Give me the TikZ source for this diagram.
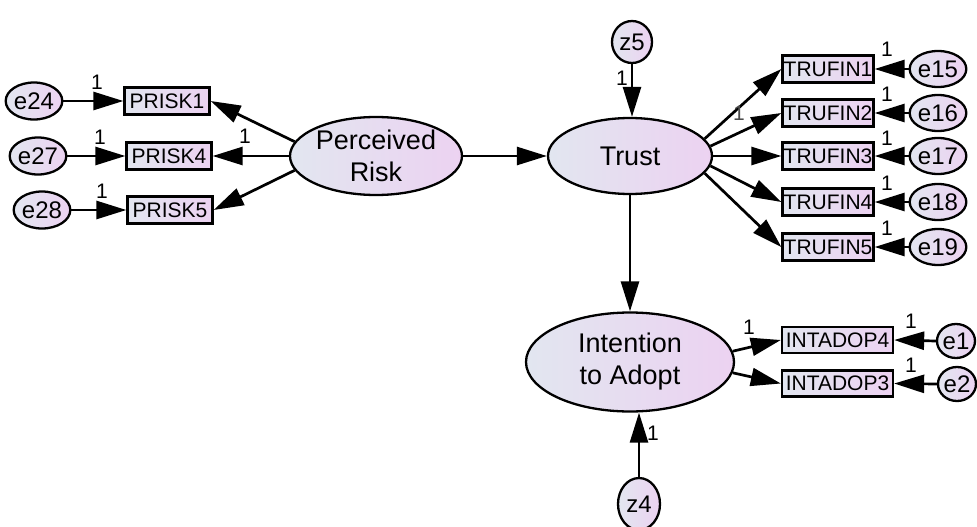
\documentclass[tikz,border=0pt]{standalone}
\usepackage{fontspec}
\setmainfont{Liberation Sans}
\usetikzlibrary{shapes.geometric,arrows.meta}
\definecolor{fillL}{RGB}{226,230,240}
\definecolor{fillR}{RGB}{236,210,241}
\tikzset{
  amos/.style={draw=black, line width=2.3pt, left color=fillL, right color=fillR, inner sep=0pt},
  latent/.style={amos, ellipse, align=center, font=\fontsize{27}{32}\selectfont},
  obs/.style={amos, rectangle, minimum height=27pt, font=\fontsize{21}{24}\selectfont},
  err/.style={amos, ellipse, minimum width=48pt, minimum height=37pt, font=\fontsize{24}{28}\selectfont},
  regpath/.style={line width=2.7pt, -{Triangle[length=30pt,width=18pt]}},
  one/.style={font=\fontsize{21}{24}\selectfont, inner sep=0pt},
}
\begin{document}
\begin{tikzpicture}[x=1pt,y=-1pt]
\useasboundingbox[fill=white] (0,0) rectangle (977,527);

% latent variables
\node[latent, minimum width=172pt, minimum height=78pt] (risk) at (376,156) {Perceived\\Risk};
\node[latent, minimum width=164pt, minimum height=76pt] (trust) at (630,156) {Trust};
\node[latent, minimum width=208pt, minimum height=99pt] (intent) at (630,362) {Intention\\to Adopt};

% disturbances
\node[err, minimum width=40pt, minimum height=42pt] (z5) at (632,42) {z5};
\node[err, minimum width=42pt, minimum height=52pt] (z4) at (639,504) {z4};

% perceived risk indicators
\node[obs, minimum width=85pt] (prisk1) at (167,101) {PRISK1};
\node[obs, minimum width=85pt] (prisk4) at (169,156) {PRISK4};
\node[obs, minimum width=85pt] (prisk5) at (170,210) {PRISK5};
\node[err] (e24) at (34,101) {e24};
\node[err] (e27) at (38,156) {e27};
\node[err] (e28) at (42,210) {e28};

% trust indicators
\node[obs, minimum width=91pt] (trufin1) at (828,69) {TRUFIN1};
\node[obs, minimum width=91pt] (trufin2) at (828,113) {TRUFIN2};
\node[obs, minimum width=91pt] (trufin3) at (828,156) {TRUFIN3};
\node[obs, minimum width=91pt] (trufin4) at (828,202) {TRUFIN4};
\node[obs, minimum width=91pt] (trufin5) at (828,247) {TRUFIN5};
\node[err, minimum width=47pt, minimum height=36pt] (e15) at (938,69) {e15};
\node[err, minimum width=47pt, minimum height=36pt] (e16) at (938,113) {e16};
\node[err, minimum width=47pt, minimum height=36pt] (e17) at (938,156) {e17};
\node[err, minimum width=47pt, minimum height=36pt] (e18) at (938,202) {e18};
\node[err, minimum width=47pt, minimum height=36pt] (e19) at (938,247) {e19};

% intention indicators
\node[obs, minimum width=111pt, minimum height=26pt] (intadop4) at (837.5,340) {INTADOP4};
\node[obs, minimum width=111pt, minimum height=26pt] (intadop3) at (837.5,383.5) {INTADOP3};
\node[err, minimum width=38pt, minimum height=34pt] (e1) at (956,341) {e1};
\node[err, minimum width=38pt, minimum height=34pt] (e2) at (957,384) {e2};

% error terms into indicators
\draw[regpath] (e24) -- (prisk1);
\draw[regpath] (e27) -- (prisk4);
\draw[regpath] (e28) -- (prisk5);
\draw[regpath] (e15) -- (trufin1);
\draw[regpath] (e16) -- (trufin2);
\draw[regpath] (e17) -- (trufin3);
\draw[regpath] (e18) -- (trufin4);
\draw[regpath] (e19) -- (trufin5);
\draw[regpath] (e1.west) -- (intadop4.east);
\draw[regpath] (e2.west) -- (intadop3.east);

% loadings
\draw[regpath] (risk.170) -- (prisk1.east);
\draw[regpath] (risk.west) -- (prisk4.east);
\draw[regpath] (risk.190) -- (prisk5.east);
\draw[regpath] (trust.13) -- (trufin1.west);
\draw[regpath] (trust.7) -- (trufin2.west);
\draw[regpath] (trust.east) -- (trufin3.west);
\draw[regpath] (trust.-7) -- (trufin4.west);
\draw[regpath] (trust.-13) -- (trufin5.west);
\draw[regpath] (intent.6) -- (intadop4.west);
\draw[regpath] (intent.-6) -- (intadop3.west);

% structural paths
\draw[regpath] (risk) -- (trust);
\draw[regpath] (trust) -- (intent);
\draw[regpath] (z5.south) -- (z5.south |- trust.north);
\draw[regpath] (z4.north) -- (z4.north |- intent.south);

% fixed parameters
\node[one] (l24) at (97,82) {1};
\node[one] (l27) at (100,137) {1};
\node[one] (l28) at (102,191) {1};
\node[one] (lp4) at (245,136) {1};
\node[one] (lz5) at (622,78) {1};
\node[one, text=black!70] (lt1) at (739,113) {1};
\node[one] (l15) at (887,49) {1};
\node[one] (l16) at (887,94) {1};
\node[one] (l17) at (887,138) {1};
\node[one] (l18) at (887,183) {1};
\node[one] (l19) at (887,228) {1};
\node[one] (li4) at (749,327) {1};
\node[one] (le1) at (911,321) {1};
\node[one] (le2) at (911,365) {1};
\node[one] (lz4) at (653,433) {1};
\end{tikzpicture}
\end{document}
